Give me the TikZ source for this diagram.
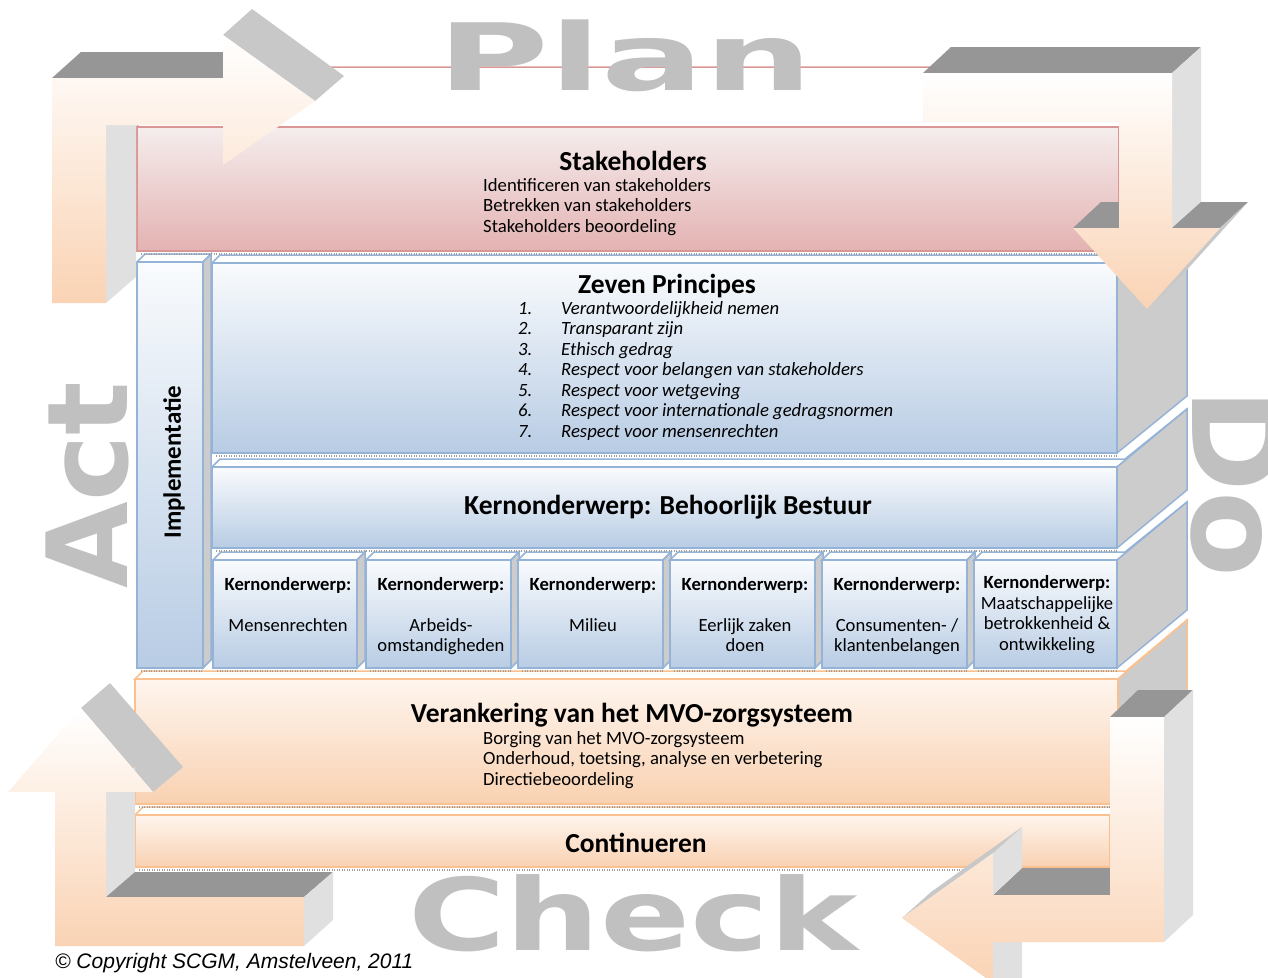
\documentclass[tikz,border=0pt]{standalone}
\usepackage{fontspec}
\setmainfont{Carlito}
\newfontfamily\bigfont{DejaVu Sans}
\newfontfamily\copyfont{Liberation Sans}
\usepackage{tikz}
\usetikzlibrary{positioning}
\definecolor{blueline}{HTML}{95B3D7}
\definecolor{bluetop}{HTML}{F9FBFD}
\definecolor{bluebot}{HTML}{B8CCE4}
\definecolor{orangeline}{HTML}{FAC090}
\definecolor{orangetop}{HTML}{FEF5EE}
\definecolor{orangebot}{HTML}{F9D1B1}
\definecolor{pinkline}{HTML}{D99694}
\definecolor{pinktop}{HTML}{F5EDED}
\definecolor{pinkbot}{HTML}{E4B2B2}
\definecolor{sidegray}{HTML}{CCCCCC}
\definecolor{faceDark}{HTML}{969696}
\definecolor{faceMid}{HTML}{C8C8C8}
\definecolor{faceLight}{HTML}{E0E0E0}
\definecolor{peach}{HTML}{FAD3B4}
\definecolor{wordgray}{HTML}{C0C0C0}

\begin{document}
\begin{tikzpicture}[x=1pt, y=-1pt,
        bluebox/.style={draw=blueline, line width=1.5pt, top color=bluetop, bottom color=bluebot},
        orangebox/.style={draw=orangeline, line width=1.5pt, top color=orangetop, bottom color=orangebot},
        pinkbox/.style={draw=pinkline, line width=1.5pt, top color=pinktop, bottom color=pinkbot},
        lid/.style={line width=1.5pt, fill=white},
        side/.style={line width=1.5pt, fill=sidegray},
        grain/.style={draw=gray!75, line width=2.5pt, dash pattern=on 1pt off 1.5pt},
        arrowfront/.style={top color=white, bottom color=peach},
        bigword/.style={text=wordgray, inner sep=0pt, anchor=base},
        title/.style={font=\fontsize{27.5}{32}\selectfont\bfseries, inner sep=0pt, anchor=base},
        bodytext/.style={font=\fontsize{18.7}{21}\selectfont, inner sep=0pt, anchor=base west},
        kernhead/.style={font=\fontsize{18.6}{21}\selectfont\bfseries, inner sep=0pt, anchor=base},
        kerntext/.style={font=\fontsize{18.6}{20.5}\selectfont, inner sep=0pt, anchor=north, align=center}
    ]
    \useasboundingbox (0,0) rectangle (1268,977);

    % orange slabs
    \foreach \xa/\ya/\xb/\yb/\dx/\dy in {135/815/1110/867/8/-8, 135/679/1118/804/69/-59} {
        \filldraw[lid, draw=orangeline] (\xa,\ya) -- ++(8,-8) -- (\xb+8,\ya-8) -- (\xb+\dx,\ya+\dy) -- (\xb,\ya) -- cycle;
        \filldraw[side, draw=orangeline] (\xb,\ya) -- (\xb+\dx,\ya+\dy) -- (\xb+\dx,\yb+\dy) -- (\xb,\yb) -- cycle;
        \draw[orangebox] (\xa,\ya) rectangle (\xb,\yb);
        \draw[grain] (\xa+4,\yb+3) -- (\xb,\yb+3);
    }

    % blue slabs
    \foreach \xa/\ya/\xb/\yb/\dx/\dy in {213/560/357/668/8/-8, 366/560/511/668/8/-8,
            518/560/663/668/8/-8, 670/560/815/668/8/-8, 822/560/967/668/8/-8,
            974/560/1117/668/70/-58, 212/467/1117/548/70/-58, 212/263/1117/453/70/-57,
            137/262/203/668/8/-8} {
        \filldraw[lid, draw=blueline] (\xa,\ya) -- ++(8,-8) -- (\xb+8,\ya-8) -- (\xb+\dx,\ya+\dy) -- (\xb,\ya) -- cycle;
        \filldraw[side, draw=blueline] (\xb,\ya) -- (\xb+\dx,\ya+\dy) -- (\xb+\dx,\yb+\dy) -- (\xb,\yb) -- cycle;
        \draw[bluebox] (\xa,\ya) rectangle (\xb,\yb);
        \draw[grain] (\xa+4,\yb+3) -- (\xb,\yb+3);
    }

    % stakeholders slab
    \filldraw[lid, draw=pinkline] (137,127) -- (160,67) -- (1188,67) -- (1119,127) -- cycle;
    \filldraw[side, draw=pinkline] (1119,127) -- (1188,67) -- (1188,192) -- (1119,251) -- cycle;
    \draw[pinkbox] (137,127) rectangle (1119,251);
    \draw[grain] (141,254) -- (1119,254);

    % texts
    \node[title] (stake) at (633,170) {Stakeholders};
    \foreach \txt [count=\i] in {Identificeren van stakeholders, Betrekken van stakeholders, Stakeholders beoordeling}
        \node[bodytext] (stake\i) at (483,{170.5+20.5*\i}) {\txt};

    \node[title] (zeven) at (667,293) {Zeven Principes};
    \foreach \txt [count=\i] in {Verantwoordelijkheid nemen, Transparant zijn, Ethisch gedrag,
            Respect voor belangen van stakeholders, Respect voor wetgeving,
            Respect voor internationale gedragsnormen, Respect voor mensenrechten} {
        \node[bodytext, font=\fontsize{18.7}{21}\selectfont\itshape] (num\i) at (518,{293.5+20.5*\i}) {\i.};
        \node[bodytext, font=\fontsize{18.7}{21}\selectfont\itshape] (item\i) at (561,{293.5+20.5*\i}) {\txt};
    }

    \node[title] (bestuur) at (668,514) {Kernonderwerp: Behoorlijk Bestuur};

    \foreach \cx/\txt [count=\i] in {288/Mensenrechten, 441/{Arbeids-\\omstandigheden}, 593/Milieu,
            745/{Eerlijk zaken\\doen}, 897/{Consumenten- /\\klantenbelangen}} {
        \node[kernhead] (head\i) at (\cx,590) {Kernonderwerp:};
        \node[kerntext] (topic\i) at (\cx,618) {\txt};
    }
    \node[kernhead] (head6) at (1047,588) {Kernonderwerp:};
    \node[kerntext] (topic6) at (1047,596) {Maatschappelijke\\betrokkenheid \&\\ontwikkeling};

    \node[rotate=90, inner sep=0pt, font=\fontsize{25}{25}\selectfont\bfseries] (impl) at (174,462) {Implementatie};

    \node[title] (veranker) at (632,722) {Verankering van het MVO-zorgsysteem};
    \foreach \txt [count=\i] in {Borging van het MVO-zorgsysteem, {Onderhoud, toetsing, analyse en verbetering}, Directiebeoordeling}
        \node[bodytext] (veranker\i) at (483,{723.5+20.5*\i}) {\txt};

    \node[title] (cont) at (636,852) {Continueren};

    % act -> plan
    \fill[faceMid] (223,35) -- (252,9) -- (344,76) -- (315,101) -- cycle;
    \fill[faceDark] (52,78) -- (81,52) -- (223,52) -- (223,78) -- cycle;
    \fill[faceLight] (106,125) -- (136,99) -- (136,277) -- (106,303) -- cycle;
    \shade[arrowfront] (52,78) -- (223,78) -- (223,35) -- (315,101) -- (223,165) -- (223,125)
        -- (106,125) -- (106,303) -- (52,303) -- cycle;

    % plan -> do
    \fill[faceDark] (923,73) -- (951,47) -- (1201,47) -- (1172,73) -- cycle;
    \fill[faceLight] (1172,73) -- (1201,47) -- (1201,202) -- (1172,228) -- cycle;
    \fill[faceDark] (1073,228) -- (1101,202) -- (1119,202) -- (1119,228) -- cycle;
    \fill[faceDark] (1172,228) -- (1201,202) -- (1248,202) -- (1220,228) -- cycle;
    \fill[faceMid] (1220,228) -- (1248,202) -- (1175,283) -- (1147,309) -- cycle;
    \shade[arrowfront] (923,73) -- (1172,73) -- (1172,228) -- (1220,228) -- (1147,309) -- (1073,228)
        -- (1119,228) -- (1119,122) -- (923,122) -- cycle;

    % do -> check
    \fill[faceDark] (1110,717) -- (1138,690) -- (1193,690) -- (1164,717) -- cycle;
    \fill[faceLight] (1164,717) -- (1193,690) -- (1193,915) -- (1164,942) -- cycle;
    \fill[faceDark] (993,895) -- (1022,868) -- (1110,868) -- (1110,895) -- cycle;
    \fill[faceLight] (993,853) -- (1022,827) -- (1022,868) -- (993,895) -- cycle;
    \fill[faceMid] (902,918) -- (931,892) -- (1022,827) -- (993,853) -- cycle;
    \fill[faceLight] (993,942) -- (1022,915) -- (1022,990) -- (993,990) -- cycle;
    \shade[arrowfront] (1110,717) -- (1164,717) -- (1164,942) -- (993,942) -- (993,983) -- (902,918)
        -- (993,853) -- (993,895) -- (1110,895) -- cycle;

    % check -> act
    \fill[faceMid] (81,708) -- (110,683) -- (183,767) -- (153,792) -- cycle;
    \fill[faceLight] (106,792) -- (135,767) -- (135,872) -- (106,897) -- cycle;
    \fill[faceDark] (106,897) -- (135,872) -- (333,872) -- (304,897) -- cycle;
    \fill[faceLight] (304,897) -- (333,872) -- (333,920) -- (304,946) -- cycle;
    \shade[arrowfront] (55,792) -- (8,792) -- (81,708) -- (153,792) -- (106,792) -- (106,897)
        -- (304,897) -- (304,946) -- (55,946) -- cycle;

    % cycle words
    \node[bigword, xscale=1.64, font=\fontsize{93}{93}\bigfont\bfseries] (plan) at (625,90) {Plan};
    \node[bigword, xscale=1.33, font=\fontsize{100}{100}\bigfont\bfseries] (check) at (633,950) {Check};
    \node[bigword, rotate=90, font=\fontsize{112}{112}\bigfont\bfseries] (act) at (127,485) {Act};
    \node[bigword, rotate=-90, font=\fontsize{125}{125}\bigfont\bfseries] (do) at (1192,483) {Do};

    \node[inner sep=0pt, anchor=base west, font=\fontsize{21}{21}\copyfont\itshape] (copy) at (55,968)
        {© Copyright SCGM, Amstelveen, 2011};
\end{tikzpicture}
\end{document}
